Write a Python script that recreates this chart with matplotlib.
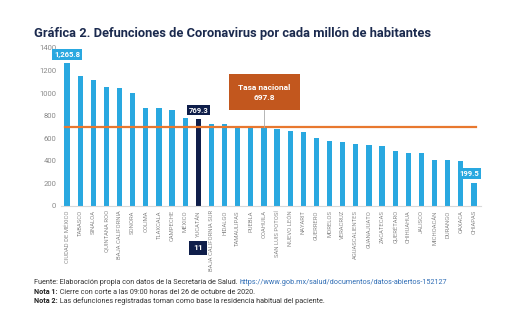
import numpy as np
import matplotlib
matplotlib.use("Agg")
import matplotlib.pyplot as plt

plt.rcParams['font.family'] = ['Roboto', 'DejaVu Sans']

# data
estados = ["CIUDAD DE MÉXICO", "TABASCO", "SINALOA", "QUINTANA ROO", "BAJA CALIFORNIA",
           "SONORA", "COLIMA", "TLAXCALA", "CAMPECHE", "MÉXICO", "YUCATÁN",
           "BAJA CALIFORNIA SUR", "HIDALGO", "TAMAULIPAS", "PUEBLA", "COAHUILA",
           "SAN LUIS POTOSÍ", "NUEVO LEÓN", "NAYARIT", "GUERRERO", "MORELOS", "VERACRUZ",
           "AGUASCALIENTES", "GUANAJUATO", "ZACATECAS", "QUERÉTARO", "CHIHUAHUA",
           "JALISCO", "MICHOACÁN", "DURANGO", "OAXACA", "CHIAPAS"]
tasas = [1265.8, 1148, 1118, 1056, 1050, 1003, 866, 866, 848, 783, 769.3,
         727, 724, 698, 697, 691, 679, 661, 652, 605, 578, 567, 546, 537, 534,
         483, 466, 466, 409, 409, 403, 199.5]
tasa_nacional = 697.8
resaltado = "YUCATÁN"
yticks = [0, 200, 400, 600, 800, 1000, 1200, 1400]
notas = [("Nota 1:", " Cierre con corte a las 09:00 horas del 26 de octubre de 2020."),
         ("Nota 2:", " Las defunciones registradas toman como base la residencia habitual del paciente.")]

azul = '#29A8E0'
marino = '#0F1E4A'
naranja = '#E8782F'
caja_naranja = '#C2571E'
gris = '#8a8a8a'

fig = plt.figure(figsize=(5.12, 3.29), dpi=100)
ax = fig.add_axes([60.5/512, 123/329, 420/512, 158/329])

x = np.arange(len(estados))
colores = [marino if e == resaltado else azul for e in estados]
ax.bar(x, tasas, width=0.4, color=colores, zorder=2)
ax.axhline(tasa_nacional, xmin=0.01, xmax=0.99, color=naranja, lw=1.6, zorder=3)

ax.set_xlim(-0.5, len(estados) - 0.5)
ax.set_ylim(0, 1400)
ax.set_yticks(yticks)
ax.set_yticklabels([str(t) for t in yticks], fontsize=5.5, color=gris)
ax.set_xticks(x)
ax.set_xticklabels(estados, rotation=90, fontsize=4.2, color=gris)
ax.tick_params(axis='both', length=0, pad=3)
for s in ['top', 'right', 'left']:
    ax.spines[s].set_visible(False)
ax.spines['bottom'].set_color('#d9d9d9')
ax.spines['bottom'].set_linewidth(0.8)

# etiquetas de valor
ax.text(x[0], 1345, "1,265.8", ha='center', va='center', fontsize=5.5, color='white',
        fontweight='bold', bbox=dict(boxstyle='square,pad=0.25', fc=azul, ec='none'), zorder=5)
i = estados.index(resaltado)
ax.text(x[i], 850, "769.3", ha='center', va='center', fontsize=5.5, color='white',
        fontweight='bold', bbox=dict(boxstyle='square,pad=0.25', fc=marino, ec='none'), zorder=5)
ax.text(x[-1] - 0.35, 285, "199.5", ha='center', va='center', fontsize=5.5, color='white',
        fontweight='bold', bbox=dict(boxstyle='square,pad=0.25', fc=azul, ec='none'), zorder=5)

# tasa nacional
j = estados.index("COAHUILA")
ax.plot([x[j], x[j]], [tasa_nacional, 850], color='#aaaaaa', lw=0.6, zorder=4)
ax.text(x[j] + 0.05, 1010, "Tasa nacional\n697.8", ha='center', va='center', fontsize=6,
        color='white', fontweight='bold', linespacing=1.5,
        bbox=dict(boxstyle='square,pad=1.1', fc=caja_naranja, ec='none'), zorder=5)

# badge
fig.text(198/512, 1 - 248/329, "11", ha='center', va='center', fontsize=6, color='white',
         fontweight='bold', bbox=dict(boxstyle='square,pad=0.45', fc=marino, ec='none'))

fig.text(34/512, 1 - 33/329, "Gráfica 2. Defunciones de Coronavirus por cada millón de habitantes",
         fontsize=9.3, fontweight='bold', color='#1b2a4e', va='center', ha='left')

fs = 5.2
fig.canvas.draw()
t = fig.text(34/512, 1 - 283/329, "Fuente: Elaboración propia con datos de la Secretaría de Salud. ",
             fontsize=fs, color='#333333', va='center')
bb = t.get_window_extent(renderer=fig.canvas.get_renderer())
fig.text(bb.x1/512, 1 - 283/329, "https://www.gob.mx/salud/documentos/datos-abiertos-152127",
         fontsize=fs, color='#2f6db5', va='center')
for k, (neg, resto) in enumerate(notas):
    yy = 1 - (292 + 9*k)/329
    tb = fig.text(34/512, yy, neg, fontsize=fs, fontweight='bold', color='#222222', va='center')
    b2 = tb.get_window_extent(renderer=fig.canvas.get_renderer())
    fig.text(b2.x1/512, yy, resto, fontsize=fs, color='#333333', va='center')

fig.savefig("out.png", dpi=100)
